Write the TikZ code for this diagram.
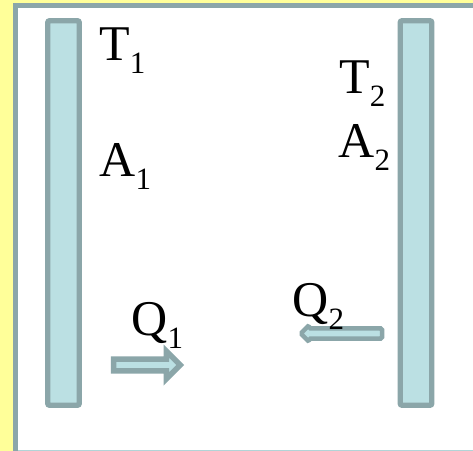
\documentclass[tikz,border=0pt]{standalone}
\usepackage{fontspec}
\setmainfont{Liberation Serif}
\usetikzlibrary{shapes.arrows}
\definecolor{wallgray}{HTML}{8BA6A9}
\definecolor{wallfill}{HTML}{BBE0E3}
\definecolor{slidebg}{HTML}{FFFF99}
\newcommand{\idx}[1]{\raisebox{-6.5pt}{\fontsize{15.5}{15.5}\selectfont #1}}

\begin{document}
\begin{tikzpicture}[x=0.5pt,y=-0.5pt,font=\fontsize{25}{25}\selectfont,
  plate/.style={draw=wallgray,fill=wallfill,line width=2.65pt,rounded corners=1pt,
    minimum width=15.8pt,minimum height=192.3pt,inner sep=0pt},
  lbl/.style={anchor=base west,inner sep=0pt},
  flux/.style={single arrow,draw=wallgray,fill=wallfill,inner xsep=0pt,
    text height=0pt,text depth=0pt,text width=0pt}]
  \useasboundingbox (0,0) rectangle (473,451);
  \fill[slidebg] (0,0) rectangle (473,451);
  \draw[wallgray,fill=white,line width=2.5pt] (15.7,5) rectangle (500,480);
  \draw[wallfill!80!wallgray,line width=0.6pt] (18.5,450.5) -- (473,450.5);
  \node[plate] (p1) at (63.5,213) {};
  \node[plate] (p2) at (416,213) {};
  \node[flux,line width=2.75pt,minimum height=33.25pt,minimum width=12pt,
    inner ysep=1.6pt,single arrow head extend=4pt] (q1arr) at (144,365) {};
  \node[flux,line width=2.25pt,shape border rotate=180,minimum height=40.75pt,
    minimum width=6.75pt,inner ysep=1.4pt,single arrow head extend=1.6pt,
    rounded corners=0.8pt] (q2arr) at (344,333.5) {};
  \node[lbl] (t1) at (99,60) {T\idx{1}};
  \node[lbl] (a1) at (99,176) {A\idx{1}};
  \node[lbl] (t2) at (339,93) {T\idx{2}};
  \node[lbl] (a2) at (338,157) {A\idx{2}};
  \node[lbl] (q1) at (131,335) {Q\idx{1}};
  \node[lbl] (q2) at (292,316) {Q\idx{2}};
\end{tikzpicture}
\end{document}
